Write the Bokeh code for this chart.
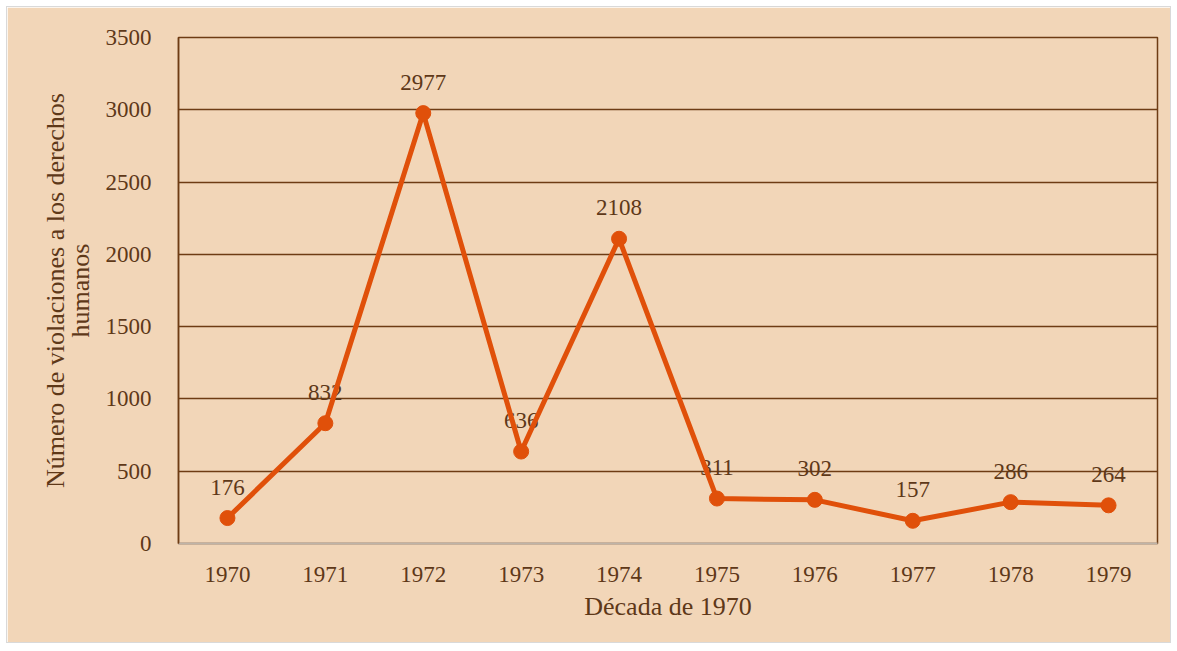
from bokeh.plotting import figure
from bokeh.models import ColumnDataSource, SingleIntervalTicker, Range1d
from bokeh.core.properties import value
from bokeh.embed import file_html
from bokeh.resources import INLINE

years = ["1970", "1971", "1972", "1973", "1974", "1975", "1976", "1977", "1978", "1979"]
violations = [176, 832, 2977, 636, 2108, 311, 302, 157, 286, 264]
labels = [str(v) for v in violations]

BG = "#F2D6B8"
TXT = "#5E3818"
GRID = "#6E3C14"
LINE = "#E0500A"
FONT = "Liberation Serif"

src = ColumnDataSource(dict(x=years, y=violations, t=labels))

p = figure(x_range=years, y_range=Range1d(0, 3500), width=1165, height=637,
           output_backend="svg", toolbar_location=None,
           min_border_left=171, min_border_right=15, min_border_top=30, min_border_bottom=101)
p.background_fill_color = BG
p.border_fill_color = BG
p.outline_line_color = GRID
p.outline_line_width = 1.5
p.styles = {"margin-left": "6px", "margin-top": "6px", "border": "1px solid #D9D9D9"}

p.yaxis.ticker = SingleIntervalTicker(interval=500)
p.ygrid.grid_line_color = GRID
p.ygrid.grid_line_width = 1.5
p.xgrid.grid_line_color = None

for ax in (p.xaxis, p.yaxis):
    ax.major_tick_line_color = None
    ax.minor_tick_line_color = None
    ax.major_label_text_font = FONT
    ax.major_label_text_font_size = "23px"
    ax.major_label_text_color = TXT
    ax.axis_label_text_font = FONT
    ax.axis_label_text_font_size = "26px"
    ax.axis_label_text_color = TXT
    ax.axis_label_text_font_style = "normal"

p.yaxis.axis_line_color = GRID
p.yaxis.axis_line_width = 1.5
p.yaxis.major_label_standoff = 21
p.yaxis.axis_label = "Número de violaciones a los derechos\nhumanos"
p.yaxis.axis_label_text_line_height = 0.85
p.yaxis.axis_label_standoff = 8
p.xaxis.axis_line_color = "#BFB4A8"
p.xaxis.axis_line_width = 2
p.xaxis.major_label_standoff = 17
p.xaxis.axis_label = "Década de 1970"
p.xaxis.axis_label_standoff = 7

p.text(x="x", y="y", text="t", source=src, text_font=value(FONT), text_font_size="23px",
       text_color=TXT, text_align="center", text_baseline="middle", y_offset=-31)
p.line(x="x", y="y", source=src, line_color=LINE, line_width=5)
p.scatter(x="x", y="y", source=src, size=15, fill_color=LINE, line_color=LINE)

open("out.html", "w").write(file_html(p, INLINE))
